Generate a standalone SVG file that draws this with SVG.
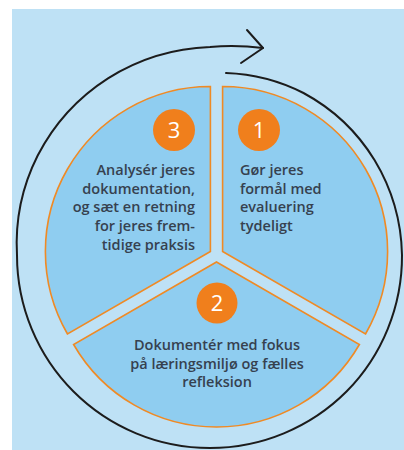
<svg xmlns="http://www.w3.org/2000/svg" width="404" height="450" viewBox="0 0 404 450">
<style>
.sector{fill:#8fcdf0;stroke:#f08a24;stroke-width:1.6;stroke-linejoin:miter}
.badge{fill:#f07f1c}
.num{font-family:"Open Sans","Noto Sans",sans-serif;font-size:22px;font-weight:500;fill:#ffffff;text-anchor:middle}
.lbl{font-family:"Open Sans","Noto Sans",sans-serif;font-size:14.5px;font-weight:600;fill:#36414f}
.cyc{fill:none;stroke:#1c1c1c;stroke-width:2;stroke-linecap:round;stroke-linejoin:round}
</style>
<rect x="0" y="0" width="404" height="450" fill="#ffffff"/>
<rect x="12" y="9" width="392" height="441" fill="#bee1f5"/>
<g id="connectors">
<path class="cyc" d="M226,73 A185,185 0 0 1 303.5,93 A188,188 0 0 1 374.5,160 A191,191 0 0 1 402,255 A193,193 0 0 1 346.5,391.5 A193,193 0 0 1 210,448 A193,193 0 0 1 73.5,391.5 A193,193 0 0 1 17,255 A196,196 0 0 1 37.7,155.5 A201,201 0 0 1 108,78.3 A206,206 0 0 1 210,47 A260,260 0 0 1 263,48"/>
<polyline class="cyc" points="247,30 263,48 241,63"/>
</g>
<g id="step1">
<path class="sector" d="M222.6,251.5 L222.6,86.5 A165,165 0 0 1 365.5,334 Z"/>
<circle class="badge" cx="259" cy="130" r="21"/>
<text class="num" x="259" y="138">1</text>
<text class="lbl" x="240"><tspan x="240" y="175">Gør jeres</tspan><tspan x="240" y="193.7">formål med</tspan><tspan x="240" y="212.4">evaluering</tspan><tspan x="240" y="231.1">tydeligt</tspan></text>
</g>
<g id="step3">
<path class="sector" d="M210.4,251.5 L67.5,334 A165,165 0 0 1 210.4,86.5 Z"/>
<circle class="badge" cx="174" cy="130" r="21"/>
<text class="num" x="174" y="138">3</text>
<text class="lbl" text-anchor="end"><tspan x="195" y="175">Analysér jeres</tspan><tspan x="195" y="193.7">dokumentation,</tspan><tspan x="195" y="212.4">og sæt en retning</tspan><tspan x="195" y="231.1">for jeres frem-</tspan><tspan x="195" y="249.8">tidige praksis</tspan></text>
</g>
<g id="step2">
<path class="sector" d="M216.5,262 L359.4,344.5 A165,165 0 0 1 73.6,344.5 Z"/>
<circle class="badge" cx="217" cy="303" r="20.5"/>
<text class="num" x="217" y="311">2</text>
<text class="lbl" text-anchor="middle"><tspan x="217" y="350">Dokumentér med fokus</tspan><tspan x="217" y="368.7">på læringsmiljø og fælles</tspan><tspan x="217" y="387.4">refleksion</tspan></text>
</g>
</svg>
